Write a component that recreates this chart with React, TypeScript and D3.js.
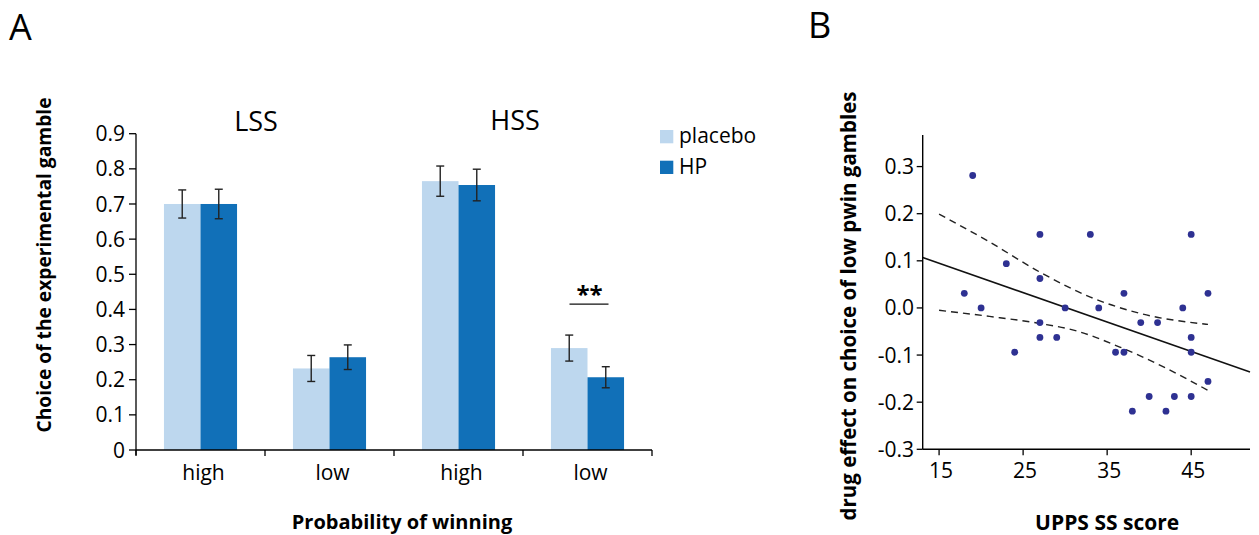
import React from "react";
import * as d3 from "d3";

// ---------- Panel A data ----------
const groups = ["LSS-high", "LSS-low", "HSS-high", "HSS-low"];
const groupLabels = ["high", "low", "high", "low"];
const series = ["placebo", "HP"];
const placeboVals = [0.70, 0.232, 0.765, 0.29];
const hpVals = [0.70, 0.264, 0.754, 0.207];
const placeboErr = [0.04, 0.037, 0.043, 0.037];
const hpErr = [0.042, 0.035, 0.045, 0.03];
const yTicksA = [0, 0.1, 0.2, 0.3, 0.4, 0.5, 0.6, 0.7, 0.8, 0.9];
const sigLevel = 0.415;

// ---------- Panel B data ----------
const ssScore = [19, 27, 33, 45, 23, 27, 18, 37, 47, 20, 30, 34, 44, 27, 39, 41, 27, 29, 45, 24, 36, 37, 45, 47, 40, 43, 45, 38, 42];
const drugEffect = [0.281, 0.156, 0.156, 0.156, 0.094, 0.0625, 0.031, 0.031, 0.031, 0, 0, 0, 0, -0.031, -0.031, -0.031, -0.0625, -0.0625, -0.0625, -0.094, -0.094, -0.094, -0.094, -0.156, -0.188, -0.188, -0.188, -0.219, -0.219];
const regX = [13.05, 52];
const regY = [0.107, -0.136];
const ciUpperX = [15, 21, 27, 33, 39, 47];
const ciUpperY = [0.199, 0.14, 0.076, 0.023, -0.012, -0.035];
const ciLowerX = [15, 21, 27, 31, 36.5, 41.7, 47];
const ciLowerY = [-0.005, -0.018, -0.033, -0.047, -0.083, -0.125, -0.175];
const xTicksB = [15, 25, 35, 45];
const yTicksB = [-0.3, -0.2, -0.1, 0.0, 0.1, 0.2, 0.3];

const FONT = "'Open Sans', 'Noto Sans', sans-serif";
const C_PLACEBO = "#BDD7EE";
const C_HP = "#1170B8";
const C_DOT = "#2E3192";
const TICK_FS = 21;

export default function App() {
  // Panel A scales
  const xA = d3.scaleBand<string>().domain(groups).range([136, 652]).paddingInner(0).paddingOuter(0);
  const xSub = d3.scaleBand<string>().domain(series).range([0, xA.bandwidth()]).paddingInner(0).paddingOuter(0.765);
  const yA = d3.scaleLinear().domain([0, 0.9]).range([450, 133.7]);
  const vals = [placeboVals, hpVals];
  const errs = [placeboErr, hpErr];
  const colors = [C_PLACEBO, C_HP];

  // Panel B scales
  const xB = d3.scaleLinear().domain([13.05, 52]).range([922.7, 1250]);
  const yB = d3.scaleLinear().domain([-0.3, 0.367]).range([449.3, 135]);
  const line = d3.line<[number, number]>().x((d) => xB(d[0])).y((d) => yB(d[1]));
  const curve = d3.line<[number, number]>().x((d) => xB(d[0])).y((d) => yB(d[1])).curve(d3.curveMonotoneX);
  const regPts = regX.map((x, i) => [x, regY[i]] as [number, number]);
  const upPts = ciUpperX.map((x, i) => [x, ciUpperY[i]] as [number, number]);
  const loPts = ciLowerX.map((x, i) => [x, ciLowerY[i]] as [number, number]);

  const boundaries = [...groups.map((g) => xA(g)!), xA(groups[3])! + xA.bandwidth()];
  const capW = 4;
  const hssLowCenter = xA("HSS-low")! + xA.bandwidth() / 2;

  return (
    <svg width={1259} height={535} style={{ position: "absolute", left: 0, top: 0, background: "#fff" }} fontFamily={FONT}>
      {/* Panel letters */}
      <text x={9} y={40} fontSize={36} fill="#000">A</text>
      <text x={808} y={38} fontSize={36} fill="#000">B</text>

      {/* ---------- Panel A ---------- */}
      {groups.map((g, gi) =>
        series.map((s, si) => {
          const x0 = xA(g)! + xSub(s)!;
          const w = xSub.bandwidth();
          const v = vals[si][gi];
          const e = errs[si][gi];
          const cx = x0 + w / 2;
          return (
            <g key={g + s}>
              <rect x={x0} y={yA(v)} width={w} height={yA(0) - yA(v)} fill={colors[si]} />
              <line x1={cx} x2={cx} y1={yA(v + e)} y2={yA(v - e)} stroke="#222" strokeWidth={1.4} />
              <line x1={cx - capW} x2={cx + capW} y1={yA(v + e)} y2={yA(v + e)} stroke="#222" strokeWidth={1.4} />
              <line x1={cx - capW} x2={cx + capW} y1={yA(v - e)} y2={yA(v - e)} stroke="#222" strokeWidth={1.4} />
            </g>
          );
        })
      )}
      {/* y axis A */}
      <line x1={136} x2={136} y1={yA(0.9)} y2={yA(0) + 5} stroke="#000" strokeWidth={1.3} />
      {yTicksA.map((t) => (
        <g key={t}>
          <line x1={129} x2={136} y1={yA(t)} y2={yA(t)} stroke="#000" strokeWidth={1.3} />
          <text x={125} y={yA(t)} dy="0.36em" textAnchor="end" fontSize={TICK_FS}>{t === 0 ? "0" : t.toFixed(1)}</text>
        </g>
      ))}
      {/* x axis A */}
      <line x1={136} x2={boundaries[4]} y1={yA(0)} y2={yA(0)} stroke="#000" strokeWidth={1.3} />
      {boundaries.map((b, i) => (
        <line key={i} x1={b} x2={b} y1={yA(0)} y2={yA(0) + 6} stroke="#000" strokeWidth={1.3} />
      ))}
      {groups.map((g, i) => (
        <text key={g} x={xA(g)! + xA.bandwidth() / 2 + 3} y={480} textAnchor="middle" fontSize={TICK_FS}>{groupLabels[i]}</text>
      ))}
      <text x={402} y={529} textAnchor="middle" fontSize={20} fontWeight="bold">Probability of winning</text>
      <text transform="translate(51,265) rotate(-90)" textAnchor="middle" fontSize={19.2} fontWeight="bold">Choice of the experimental gamble</text>
      <text x={boundaries[1] - 9} y={131} textAnchor="middle" fontSize={27}>LSS</text>
      <text x={boundaries[3] - 8} y={130} textAnchor="middle" fontSize={27}>HSS</text>
      {/* significance */}
      <line x1={hssLowCenter - 18} x2={hssLowCenter + 21} y1={yA(sigLevel)} y2={yA(sigLevel)} stroke="#111" strokeWidth={1.4} />
      <text x={hssLowCenter + 2} y={yA(sigLevel) - 1} textAnchor="middle" fontSize={24} fontWeight="bold">**</text>
      {/* legend */}
      {series.map((s, i) => (
        <g key={s}>
          <rect x={660} y={130 + i * 30.7} width={13.3} height={13.3} fill={colors[i]} />
          <text x={679} y={142.5 + i * 31} fontSize={TICK_FS}>{s}</text>
        </g>
      ))}

      {/* ---------- Panel B ---------- */}
      <path d={curve(upPts)!} fill="none" stroke="#222" strokeWidth={1.4} strokeDasharray="7,5" />
      <path d={curve(loPts)!} fill="none" stroke="#222" strokeWidth={1.4} strokeDasharray="7,5" />
      <path d={line(regPts)!} fill="none" stroke="#111" strokeWidth={1.5} />
      {ssScore.map((x, i) => (
        <circle key={i} cx={xB(x)} cy={yB(drugEffect[i])} r={3.4} fill={C_DOT} />
      ))}
      <line x1={922.7} x2={922.7} y1={135} y2={449.3} stroke="#000" strokeWidth={1.4} />
      <line x1={922.7} x2={1250} y1={449.3} y2={449.3} stroke="#000" strokeWidth={1.4} />
      {yTicksB.map((t) => (
        <g key={t}>
          <line x1={916.7} x2={922.7} y1={yB(t)} y2={yB(t)} stroke="#000" strokeWidth={1.3} />
          <text x={914} y={yB(t)} dy="0.36em" textAnchor="end" fontSize={TICK_FS}>{t.toFixed(1)}</text>
        </g>
      ))}
      {xTicksB.map((t) => (
        <g key={t}>
          <line x1={xB(t)} x2={xB(t)} y1={449.3} y2={455.3} stroke="#000" strokeWidth={1.3} />
          <text x={xB(t) + 2} y={478} textAnchor="middle" fontSize={TICK_FS}>{t}</text>
        </g>
      ))}
      <text x={xB(35)} y={530} textAnchor="middle" fontSize={21} fontWeight="bold">UPPS SS score</text>
      <text transform="translate(856,306) rotate(-90)" textAnchor="middle" fontSize={20.5} fontWeight="bold">drug effect on choice of low pwin gambles</text>
    </svg>
  );
}
